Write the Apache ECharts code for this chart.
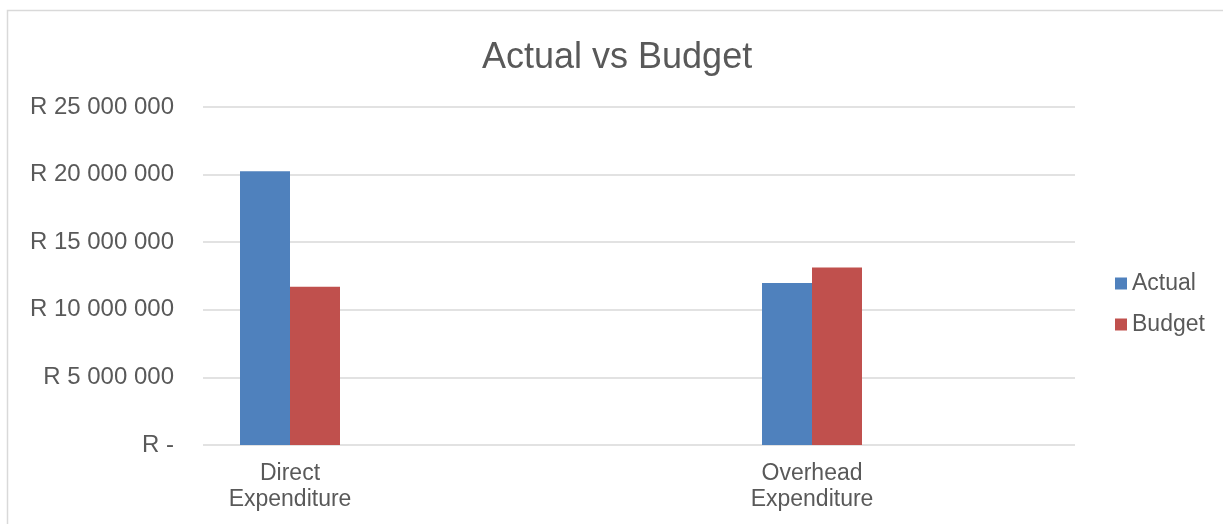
<!DOCTYPE html>
<html>
<head>
<meta charset="utf-8">
<title>Actual vs Budget</title>
<script src="https://cdn.jsdelivr.net/npm/echarts@6/dist/echarts.min.js"></script>
<style>
  html, body { margin: 0; padding: 0; background: #fff; }
  #chart { width: 1223px; height: 524px; }
</style>
</head>
<body>
<div id="chart"></div>
<script>
// chart data
const categories = ['Direct\nExpenditure', 'Overhead\nExpenditure']
const actual = [20240000, 11980000]
const budget = [11700000, 13130000]
const yTicks = [0, 5000000, 10000000, 15000000, 20000000, 25000000]

const textColor = '#595959'
const font = 'Liberation Sans, Arial, sans-serif'

// R 25 000 000 style labels
function randLabel (v) {
  if (v === 0) return 'R -'
  return 'R ' + String(v).replace(/\B(?=(\d{3})+(?!\d))/g, ' ')
}

const chart = echarts.init(document.getElementById('chart'))

const option = {
  backgroundColor: '#fff',
  animation: false,
  textStyle: { fontFamily: font },
  graphic: [
    {
      type: 'rect',
      shape: { x: 7.5, y: 10.5, width: 1400, height: 700 },
      style: { fill: 'none', stroke: '#d9d9d9', lineWidth: 1.5 },
      silent: true
    }
  ],
  title: {
    text: 'Actual vs Budget',
    left: 477,
    top: 35,
    textStyle: { color: textColor, fontSize: 36, fontWeight: 'normal', fontFamily: font }
  },
  legend: {
    orient: 'vertical',
    left: 1115,
    top: 272,
    padding: 0,
    itemWidth: 12,
    itemHeight: 12,
    itemGap: 18,
    icon: 'rect',
    textStyle: { color: textColor, fontSize: 23, fontFamily: font },
    data: ['Actual', 'Budget']
  },
  grid: [
    // gridlines + value labels
    { left: 203, right: 148, top: 107, bottom: 79 },
    // bars + category labels
    { left: 29, right: 150, top: 107, bottom: 79 }
  ],
  xAxis: [
    { type: 'category', gridIndex: 0, data: categories, show: false },
    {
      type: 'category',
      gridIndex: 1,
      data: categories,
      axisLine: { show: false },
      axisTick: { show: false },
      axisLabel: {
        color: textColor,
        fontSize: 23,
        lineHeight: 26,
        margin: 16,
        fontFamily: font
      }
    }
  ],
  yAxis: [
    {
      type: 'value',
      gridIndex: 0,
      min: yTicks[0],
      max: yTicks[yTicks.length - 1],
      interval: yTicks[1] - yTicks[0],
      axisLine: { show: false },
      axisTick: { show: false },
      splitLine: { lineStyle: { color: '#d9d9d9', width: 1.5 } },
      axisLabel: {
        color: textColor,
        fontSize: 24,
        margin: 29,
        fontFamily: font,
        formatter: randLabel
      }
    },
    {
      type: 'value',
      gridIndex: 1,
      min: yTicks[0],
      max: yTicks[yTicks.length - 1],
      interval: yTicks[1] - yTicks[0],
      show: false,
      splitLine: { show: false }
    }
  ],
  series: [
    {
      name: 'Actual',
      type: 'bar',
      xAxisIndex: 1,
      yAxisIndex: 1,
      data: actual,
      barWidth: 50,
      barGap: '0%',
      itemStyle: { color: '#4f81bd' }
    },
    {
      name: 'Budget',
      type: 'bar',
      xAxisIndex: 1,
      yAxisIndex: 1,
      data: budget,
      barWidth: 50,
      barGap: '0%',
      itemStyle: { color: '#c0504d' }
    }
  ]
}

chart.setOption(option)
</script>
</body>
</html>
